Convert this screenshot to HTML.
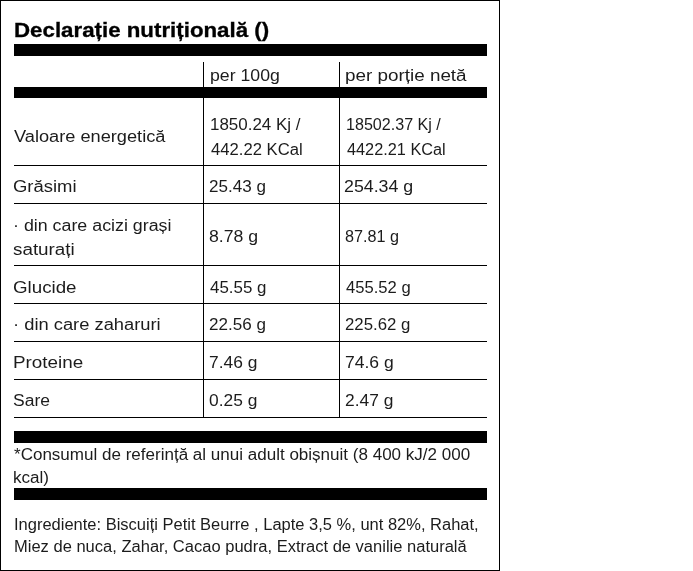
<!DOCTYPE html>
<html><head><meta charset="utf-8"><style>
html,body{margin:0;padding:0;background:#fff;}
body{width:693px;height:571px;position:relative;overflow:hidden;font-family:"Liberation Sans",sans-serif;color:#1c1c1c;}
.box{position:absolute;left:0;top:0;width:500px;height:571px;border:1px solid #000;box-sizing:border-box;}
.r{position:absolute;background:#000;}
.t{position:absolute;white-space:nowrap;transform-origin:0 0;will-change:transform;font-size:16px;line-height:20px;}
.b{font-weight:bold;font-size:20px;color:#000;-webkit-text-stroke:0.3px #000;}
</style></head><body>

<div class="box"></div>
<div class="r" style="left:13.5px;top:43.5px;width:473.3px;height:12px"></div>
<div class="r" style="left:13.5px;top:86.5px;width:473.3px;height:11.5px"></div>
<div class="r" style="left:13.5px;top:430.5px;width:473.3px;height:12px"></div>
<div class="r" style="left:13.5px;top:487.8px;width:473.3px;height:12px"></div>
<div class="r" style="left:13.5px;top:165px;width:473px;height:1px"></div>
<div class="r" style="left:13.5px;top:203px;width:473px;height:1px"></div>
<div class="r" style="left:13.5px;top:265px;width:473px;height:1px"></div>
<div class="r" style="left:13.5px;top:303px;width:473px;height:1px"></div>
<div class="r" style="left:13.5px;top:341px;width:473px;height:1px"></div>
<div class="r" style="left:13.5px;top:379px;width:473px;height:1px"></div>
<div class="r" style="left:13.5px;top:416.6px;width:473px;height:1px"></div>
<div class="r" style="left:203px;top:61.5px;width:1px;height:355.5px"></div>
<div class="r" style="left:339px;top:61.5px;width:1px;height:355.5px"></div>
<div class="t b" style="left:13.89px;top:19.67px;letter-spacing:0.000px;transform:scaleX(1.1145)">Declarație nutrițională ()</div>
<div class="t" style="left:210.07px;top:66.26px;letter-spacing:0.000px;transform:scaleX(1.1049)">per 100g</div>
<div class="t" style="left:345.07px;top:66.26px;letter-spacing:0.000px;transform:scaleX(1.1785)">per porție netă</div>
<div class="t" style="left:13.59px;top:127.36px;letter-spacing:0.000px;transform:scaleX(1.1376)">Valoare energetică</div>
<div class="t" style="left:209.91px;top:115.26px;letter-spacing:0.000px;transform:scaleX(1.0595)">1850.24 Kj /</div>
<div class="t" style="left:210.98px;top:139.86px;letter-spacing:0.000px;transform:scaleX(1.0403)">442.22 KCal</div>
<div class="t" style="left:345.59px;top:115.26px;letter-spacing:0.000px;transform:scaleX(1.0054)">18502.37 Kj /</div>
<div class="t" style="left:346.99px;top:139.86px;letter-spacing:0.000px;transform:scaleX(1.0177)">4422.21 KCal</div>
<div class="t" style="left:12.60px;top:177.46px;letter-spacing:0.000px;transform:scaleX(1.1529)">Grăsimi</div>
<div class="t" style="left:208.53px;top:177.46px;letter-spacing:0.000px;transform:scaleX(1.0650)">25.43 g</div>
<div class="t" style="left:344.48px;top:177.46px;letter-spacing:0.000px;transform:scaleX(1.1117)">254.34 g</div>
<div class="t" style="left:12.59px;top:215.66px;letter-spacing:0.000px;transform:scaleX(1.1137)">· din care acizi grași</div>
<div class="t" style="left:12.58px;top:240.46px;letter-spacing:0.000px;transform:scaleX(1.1768)">saturați</div>
<div class="t" style="left:208.89px;top:226.56px;letter-spacing:0.000px;transform:scaleX(1.1053)">8.78 g</div>
<div class="t" style="left:345.20px;top:226.56px;letter-spacing:0.000px;transform:scaleX(1.0120)">87.81 g</div>
<div class="t" style="left:12.57px;top:278.26px;letter-spacing:0.000px;transform:scaleX(1.1713)">Glucide</div>
<div class="t" style="left:209.59px;top:278.26px;letter-spacing:0.000px;transform:scaleX(1.0559)">45.55 g</div>
<div class="t" style="left:346.22px;top:278.26px;letter-spacing:0.000px;transform:scaleX(1.0379)">455.52 g</div>
<div class="t" style="left:12.54px;top:315.46px;letter-spacing:0.000px;transform:scaleX(1.1452)">· din care zaharuri</div>
<div class="t" style="left:208.53px;top:315.46px;letter-spacing:0.000px;transform:scaleX(1.0650)">22.56 g</div>
<div class="t" style="left:345.17px;top:315.46px;letter-spacing:0.000px;transform:scaleX(1.0484)">225.62 g</div>
<div class="t" style="left:12.57px;top:353.26px;letter-spacing:0.000px;transform:scaleX(1.1776)">Proteine</div>
<div class="t" style="left:208.51px;top:353.26px;letter-spacing:0.000px;transform:scaleX(1.0860)">7.46 g</div>
<div class="t" style="left:344.90px;top:353.26px;letter-spacing:0.000px;transform:scaleX(1.0957)">74.6 g</div>
<div class="t" style="left:12.68px;top:390.96px;letter-spacing:0.000px;transform:scaleX(1.0938)">Sare</div>
<div class="t" style="left:208.51px;top:390.96px;letter-spacing:0.000px;transform:scaleX(1.0860)">0.25 g</div>
<div class="t" style="left:344.91px;top:390.96px;letter-spacing:0.000px;transform:scaleX(1.0860)">2.47 g</div>
<div class="t" style="left:13.97px;top:445.46px;letter-spacing:0.000px;transform:scaleX(1.0640)">*Consumul de referință al unui adult obișnuit (8 400 kJ/2 000</div>
<div class="t" style="left:12.92px;top:468.36px;letter-spacing:0.000px;transform:scaleX(1.0660)">kcal)</div>
<div class="t" style="left:13.76px;top:515.06px;letter-spacing:0.000px;transform:scaleX(1.0305)">Ingrediente: Biscuiți Petit Beurre , Lapte 3,5 %, unt 82%, Rahat,</div>
<div class="t" style="left:13.76px;top:537.46px;letter-spacing:0.000px;transform:scaleX(1.0325)">Miez de nuca, Zahar, Cacao pudra, Extract de vanilie naturală</div>
</body></html>
